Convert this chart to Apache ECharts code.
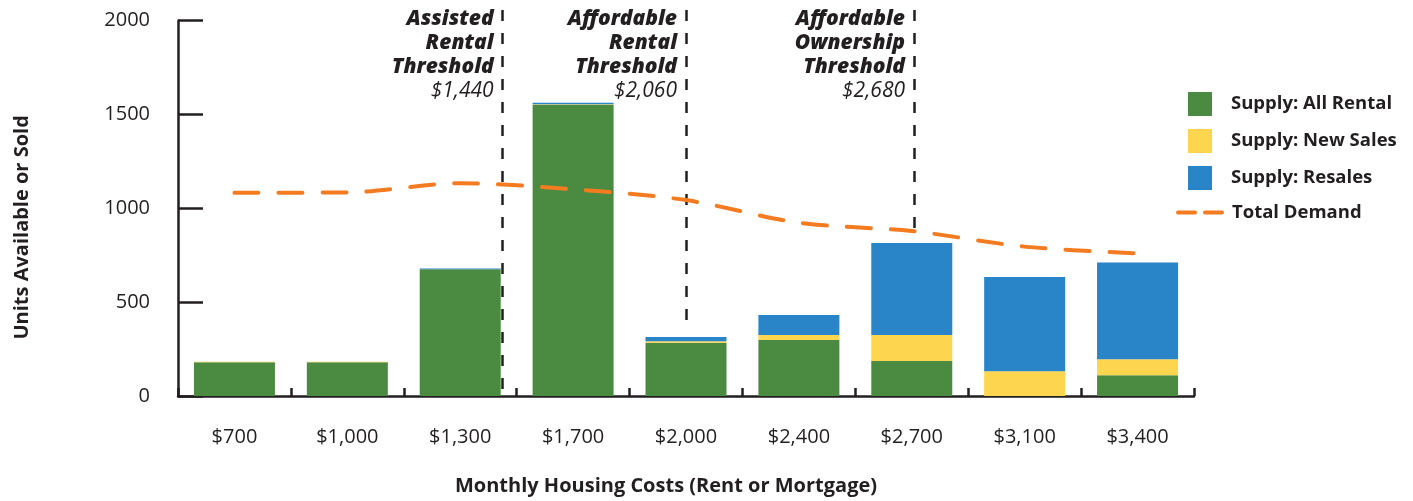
<!DOCTYPE html>
<html>
<head>
<meta charset="utf-8">
<script src="https://cdn.jsdelivr.net/npm/echarts@6/dist/echarts.min.js"></script>
<style>
html,body{margin:0;padding:0;background:#fff;}
#chart{width:1413px;height:501px;}
</style>
</head>
<body>
<div id="chart"></div>
<script>
// ---- data ----
const categories = ['$700', '$1,000', '$1,300', '$1,700', '$2,000', '$2,400', '$2,700', '$3,100', '$3,400'];
const supplyRental = [180, 180, 675, 1552, 284, 298, 186, 0, 110];
const supplyNewSales = [2, 2, 0, 3, 8, 27, 139, 132, 86];
const supplyResales = [0, 0, 5, 8, 22, 107, 490, 502, 516];
const totalDemand = [1083, 1085, 1134, 1102, 1044, 923, 879, 796, 760];
const yTicks = [0, 500, 1000, 1500, 2000];
// thresholds: position on the category index scale, label, amount, where the dashed line ends (units)
const thresholdPos = [2.376, 4.0, 6.02];
const thresholdTitles = ['Assisted\nRental\nThreshold', 'Affordable\nRental\nThreshold', 'Affordable\nOwnership\nThreshold'];
const thresholdAmounts = ['$1,440', '$2,060', '$2,680'];
const thresholdLineEnd = [0, 378, 879];
const thresholdLineTop = 2057;

const FONT = 'Open Sans';
const INK = '#231f20';
const C_RENTAL = '#4b8b41';
const C_NEW = '#fed54e';
const C_RESALE = '#2a84c8';
const C_DEMAND = '#f47b20';

const chart = echarts.init(document.getElementById('chart'), null, {renderer: 'canvas'});

const markLineData = thresholdPos.map((p, i) => [
  {coord: [p, thresholdLineTop]},
  {coord: [p, thresholdLineEnd[i]]}
]);

const thresholdLabelData = thresholdPos.map((p, i) => ({
  value: [p, thresholdLineTop],
  label: {
    formatter: thresholdTitles[i].split('\n').map(s => '{t|' + s + '}').join('\n') + '\n{v|' + thresholdAmounts[i] + '}'
  }
}));

const PX_PER_UNIT = (396 - 20.7) / 2000;

const option = {
  animation: false,
  backgroundColor: '#fff',
  textStyle: {fontFamily: FONT, color: INK},
  grid: [
    {left: 178, right: 219, top: 20.7, bottom: 105, containLabel: false},
    // overlay grid in the same units, extended upward for the threshold markers
    {left: 178, right: 219, top: 396 - thresholdLineTop * PX_PER_UNIT, bottom: 105, containLabel: false}
  ],
  legend: [
    {
      data: ['Supply: All Rental', 'Supply: New Sales', 'Supply: Resales'],
      orient: 'vertical',
      left: 1183, top: 87,
      itemWidth: 24, itemHeight: 24, itemGap: 13,
      icon: 'rect',
      selectedMode: false,
      textStyle: {fontFamily: FONT, fontWeight: 'bold', fontSize: 18.5, color: INK, padding: [0, 0, 0, 14]}
    },
    {
      data: ['Total Demand'],
      orient: 'vertical',
      left: 1171, top: 198,
      itemWidth: 46, itemHeight: 24,
      selectedMode: false,
      itemStyle: {opacity: 0},
      lineStyle: {type: [17, 10], width: 4, cap: 'round', color: C_DEMAND},
      textStyle: {fontFamily: FONT, fontWeight: 'bold', fontSize: 18.5, color: INK, padding: [0, 0, 0, 3]}
    }
  ],
  xAxis: [
    {
      type: 'category',
      gridIndex: 0,
      data: categories,
      boundaryGap: true,
      name: 'Monthly Housing Costs (Rent or Mortgage)',
      nameLocation: 'middle',
      nameGap: 80,
      nameTextStyle: {fontFamily: FONT, fontWeight: 'bold', fontSize: 20, color: INK, padding: [0, 40, 0, 0]},
      axisLine: {show: true, lineStyle: {color: INK, width: 2.5}},
      axisTick: {show: true, inside: true, length: 8, interval: 0, lineStyle: {color: INK, width: 2.5}},
      axisLabel: {fontFamily: FONT, fontSize: 20, color: INK, margin: 31, interval: 0},
      splitLine: {show: false}
    },
    {
      type: 'value',
      gridIndex: 1,
      min: -0.5, max: 8.5,
      show: false
    }
  ],
  yAxis: [
    {
      type: 'value',
      gridIndex: 0,
      min: 0, max: 2000, interval: 500,
      name: 'Units Available or Sold',
      nameLocation: 'middle',
      nameGap: 146,
      nameRotate: 90,
      nameTextStyle: {fontFamily: FONT, fontWeight: 'bold', fontSize: 20, color: INK, padding: [0, 38, 0, 0]},
      axisLine: {show: true, onZero: false, lineStyle: {color: INK, width: 2.5}},
      axisTick: {show: true, inside: true, length: 25, lineStyle: {color: INK, width: 2.5}},
      axisLabel: {fontFamily: FONT, fontSize: 20, color: INK, margin: 28,
        formatter: v => yTicks.includes(v) ? String(v) : ''},
      splitLine: {show: false}
    },
    {
      type: 'value',
      gridIndex: 1,
      min: 0, max: thresholdLineTop,
      show: false
    }
  ],
  series: [
    {
      name: 'Supply: All Rental', type: 'bar', stack: 'supply',
      data: supplyRental, barWidth: 81,
      itemStyle: {color: C_RENTAL}
    },
    {
      name: 'Supply: New Sales', type: 'bar', stack: 'supply',
      data: supplyNewSales, barWidth: 81,
      itemStyle: {color: C_NEW}
    },
    {
      name: 'Supply: Resales', type: 'bar', stack: 'supply',
      data: supplyResales, barWidth: 81,
      itemStyle: {color: C_RESALE}
    },
    {
      name: 'Total Demand', type: 'line',
      data: totalDemand,
      symbol: 'none', smooth: 0.3,
      lineStyle: {color: C_DEMAND, width: 4, type: [24, 20], cap: 'round'},
      itemStyle: {color: C_DEMAND},
      z: 5
    },
    {
      name: 'thresholds', type: 'scatter',
      xAxisIndex: 1, yAxisIndex: 1,
      data: thresholdLabelData,
      symbolSize: 0,
      silent: true,
      clip: false,
      itemStyle: {color: INK, opacity: 1},
      label: {
        show: true,
        position: 'left',
        distance: 9,
        align: 'right',
        verticalAlign: 'top',
        offset: [0, -3],
        color: INK,
        opacity: 1,
        rich: {
          t: {fontFamily: FONT, fontWeight: 800, fontStyle: 'italic', fontSize: 21, lineHeight: 24, color: INK, align: 'right'},
          v: {fontFamily: FONT, fontWeight: 'normal', fontStyle: 'italic', fontSize: 21, lineHeight: 24, color: INK, align: 'right'}
        }
      },
      markLine: {
        silent: true,
        symbol: ['none', 'none'],
        label: {show: false},
        lineStyle: {color: INK, width: 2.5, type: [11, 12], opacity: 1},
        data: markLineData
      },
      z: 6
    }
  ]
};

chart.setOption(option);
</script>
</body>
</html>
